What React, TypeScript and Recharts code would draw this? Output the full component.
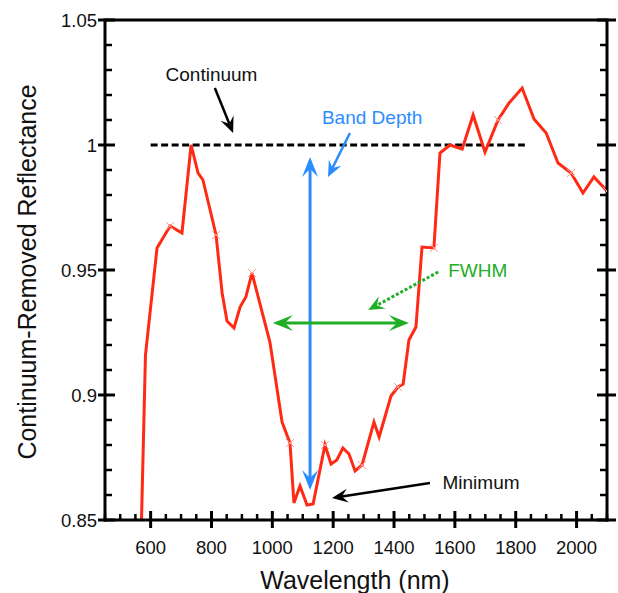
import React from 'react';
import { LineChart, Line, XAxis, YAxis, ReferenceLine, ReferenceDot } from 'recharts';

// ---- data ----
const wavelengths = [570, 583, 621, 664, 703, 733, 756, 772, 815, 835, 851, 874, 894, 913, 933, 992, 1032, 1058, 1071, 1091, 1114, 1134, 1173, 1193, 1212, 1232, 1252, 1272, 1295, 1334, 1351, 1390, 1413, 1430, 1449, 1472, 1492, 1531, 1551, 1584, 1624, 1660, 1699, 1742, 1778, 1821, 1860, 1900, 1939, 1982, 2021, 2057, 2100];
const reflectance = [0.85, 0.916, 0.9588, 0.9676, 0.9648, 1.0, 0.9888, 0.986, 0.964, 0.9408, 0.9296, 0.9268, 0.9352, 0.9392, 0.9488, 0.9212, 0.8892, 0.8808, 0.8568, 0.8636, 0.856, 0.8564, 0.88, 0.8724, 0.874, 0.8788, 0.8764, 0.8696, 0.872, 0.8892, 0.8832, 0.8996, 0.9032, 0.9044, 0.922, 0.9272, 0.9592, 0.9588, 0.9968, 1.0, 0.9984, 1.012, 0.9972, 1.01, 1.0168, 1.0228, 1.0104, 1.0048, 0.9928, 0.9888, 0.9808, 0.9872, 0.9816];
const markedWavelengths = [664, 815, 933, 1058, 1173, 1295, 1413, 1531, 1742, 1982, 2100];

const xMajorTicks = [600, 800, 1000, 1200, 1400, 1600, 1800, 2000];
const xTickLabels = ['600', '800', '1000', '1200', '1400', '1600', '1800', '2000'];
const xAllTicks = [450, 500, 550, 600, 650, 700, 750, 800, 850, 900, 950, 1000, 1050, 1100, 1150, 1200, 1250, 1300, 1350, 1400, 1450, 1500, 1550, 1600, 1650, 1700, 1750, 1800, 1850, 1900, 1950, 2000, 2050, 2100];
const yMajorTicks = [0.85, 0.9, 0.95, 1, 1.05];
const yTickLabels = ['0.85', '0.9', '0.95', '1', '1.05'];
const yAllTicks = [0.85, 0.86, 0.87, 0.88, 0.89, 0.9, 0.91, 0.92, 0.93, 0.94, 0.95, 0.96, 0.97, 0.98, 0.99, 1, 1.01, 1.02, 1.03, 1.04, 1.05];

const continuumLevel = 1;
const continuumRange = [600, 1830];

const data = wavelengths.map((w, i) => ({ wl: w, r: reflectance[i], marked: markedWavelengths.includes(w) }));

const FONT = '"Liberation Sans", Arial, Helvetica, sans-serif';
const RED = '#ff2a14';
const BLUE = '#2b8cff';
const GREEN = '#1fae24';

const majorIndex = (arr: number[], v: number) => arr.findIndex((a) => Math.abs(a - v) < 1e-6);

const XTick = (props: any) => {
  const { x, y, payload } = props;
  const i = majorIndex(xMajorTicks, payload.value);
  if (i >= 0) {
    return (
      <g>
        <line x1={x} x2={x} y1={y - 9} y2={y + 8} stroke="#000" strokeWidth={3} />
        <text x={x} y={y + 34} textAnchor="middle" fontSize={18.5} fontFamily={FONT} fill="#111">
          {xTickLabels[i]}
        </text>
      </g>
    );
  }
  return <line x1={x} x2={x} y1={y - 6} y2={y} stroke="#000" strokeWidth={2.5} />;
};

const YTickLeft = (props: any) => {
  const { x, y, payload } = props;
  const i = majorIndex(yMajorTicks, payload.value);
  if (i >= 0) {
    return (
      <g>
        <line x1={x - 7} x2={x + 10} y1={y} y2={y} stroke="#000" strokeWidth={3} />
        <text x={x - 8} y={y} textAnchor="end" dominantBaseline="central" fontSize={18.5} fontFamily={FONT} fill="#111">
          {yTickLabels[i]}
        </text>
      </g>
    );
  }
  return <line x1={x} x2={x + 7} y1={y} y2={y} stroke="#000" strokeWidth={2.5} />;
};

const YTickRight = (props: any) => {
  const { x, y, payload } = props;
  const i = majorIndex(yMajorTicks, payload.value);
  if (i >= 0) {
    return <line x1={x - 10} x2={x + 9} y1={y} y2={y} stroke="#000" strokeWidth={3} />;
  }
  return <line x1={x - 7} x2={x} y1={y} y2={y} stroke="#000" strokeWidth={2.5} />;
};

const renderDot = (props: any) => {
  const { cx, cy, payload, index } = props;
  if (!payload || !payload.marked || cx == null || cy == null) return <g key={`d${index}`} />;
  const s = 4;
  return (
    <g key={`d${index}`}>
      <line x1={cx - s} y1={cy - s} x2={cx + s} y2={cy + s} stroke="#ff9a90" strokeWidth={1} />
      <line x1={cx - s} y1={cy + s} x2={cx + s} y2={cy - s} stroke="#ff9a90" strokeWidth={1} />
    </g>
  );
};

type ArrowOpts = { color: string; width: number; dash?: string; both?: boolean; len?: number; half?: number; notch?: number };
const arrowShape = (o: ArrowOpts) => (props: any) => {
  const { x1, y1, x2, y2 } = props;
  const dx = x2 - x1;
  const dy = y2 - y1;
  const d = Math.hypot(dx, dy) || 1;
  const ux = dx / d;
  const uy = dy / d;
  const nx = -uy;
  const ny = ux;
  const L = o.len ?? 18;
  const W = o.half ?? 8;
  const N = o.notch ?? 11;
  const head = (tx: number, ty: number, sx: number, sy: number) =>
    `M${tx},${ty} L${tx - L * sx + W * nx},${ty - L * sy + W * ny} L${tx - N * sx},${ty - N * sy} L${tx - L * sx - W * nx},${ty - L * sy - W * ny} Z`;
  const sx1 = o.both ? x1 + N * ux : x1;
  const sy1 = o.both ? y1 + N * uy : y1;
  return (
    <g>
      <line x1={sx1} y1={sy1} x2={x2 - N * ux} y2={y2 - N * uy} stroke={o.color} strokeWidth={o.width} strokeDasharray={o.dash} />
      <path d={head(x2, y2, ux, uy)} fill={o.color} />
      {o.both ? <path d={head(x1, y1, -ux, -uy)} fill={o.color} /> : null}
    </g>
  );
};

const textShape = (label: string, color: string, size: number) => (props: any) => (
  <text x={props.cx} y={props.cy} textAnchor="middle" dominantBaseline="central" fontSize={size} fontFamily={FONT} fill={color}>
    {label}
  </text>
);

export default function App() {
  return (
    <div style={{ position: 'absolute', left: 0, top: 0, background: '#fff' }}>
      <LineChart width={618} height={593} data={data} margin={{ top: 20, right: 0, bottom: 0, left: 0 }}>
        <XAxis
          dataKey="wl"
          type="number"
          domain={[450, 2100]}
          allowDataOverflow
          ticks={xAllTicks}
          interval={0}
          tickSize={0}
          tickMargin={0}
          tickLine={false}
          tick={<XTick />}
          height={73}
          axisLine={{ stroke: '#000', strokeWidth: 3, strokeLinecap: 'square' }}
          label={{
            content: (p: any) => {
              const vb = p.viewBox || { x: 105, y: 520, width: 502, height: 73 };
              return (
                <text x={vb.x + vb.width / 2 - 1} y={vb.y + 60} textAnchor="middle" dominantBaseline="central" fontSize={25} fontFamily={FONT} fill="#111">
                  Wavelength (nm)
                </text>
              );
            },
          }}
        />
        <YAxis
          type="number"
          domain={[0.85, 1.05]}
          allowDataOverflow
          ticks={yAllTicks}
          interval={0}
          tickSize={0}
          tickMargin={0}
          tickLine={false}
          tick={<YTickLeft />}
          width={105}
          axisLine={{ stroke: '#000', strokeWidth: 3, strokeLinecap: 'square' }}
          label={{
            content: (p: any) => {
              const vb = p.viewBox || { x: 0, y: 20, width: 105, height: 500 };
              const cx = vb.x + 27;
              const cy = vb.y + vb.height / 2 + 2;
              return (
                <text x={cx} y={cy} transform={`rotate(-90 ${cx} ${cy})`} textAnchor="middle" dominantBaseline="central" fontSize={25} fontFamily={FONT} fill="#111">
                  Continuum-Removed Reflectance
                </text>
              );
            },
          }}
        />
        <YAxis
          yAxisId="r"
          orientation="right"
          type="number"
          domain={[0.85, 1.05]}
          allowDataOverflow
          ticks={yAllTicks}
          interval={0}
          tickSize={0}
          tickMargin={0}
          tickLine={false}
          tick={<YTickRight />}
          width={11}
          axisLine={{ stroke: '#000', strokeWidth: 3, strokeLinecap: 'square' }}
        />
        <ReferenceLine y={1.05} stroke="#000" strokeWidth={3} />
        <ReferenceLine
          segment={[{ x: continuumRange[0], y: continuumLevel }, { x: continuumRange[1], y: continuumLevel }]}
          stroke="#000"
          strokeWidth={3}
          strokeDasharray="7 3.5"
        />
        <Line
          dataKey="r"
          stroke={RED}
          strokeWidth={3}
          dot={renderDot}
          activeDot={false}
          isAnimationActive={false}
        />
        {/* Band depth vertical double arrow */}
        <ReferenceLine
          segment={[{ x: 1124, y: 0.9952 }, { x: 1124, y: 0.862 }]}
          shape={arrowShape({ color: BLUE, width: 3, both: true, len: 20, half: 8, notch: 12 })}
        />
        {/* FWHM horizontal double arrow */}
        <ReferenceLine
          segment={[{ x: 1002, y: 0.9288 }, { x: 1449, y: 0.9288 }]}
          shape={arrowShape({ color: GREEN, width: 3, both: true, len: 20, half: 8, notch: 12 })}
        />
        {/* pointer arrows */}
        <ReferenceLine
          segment={[{ x: 811, y: 1.0228 }, { x: 871, y: 1.0048 }]}
          shape={arrowShape({ color: '#000', width: 2.5, len: 16, half: 7, notch: 10 })}
        />
        <ReferenceLine
          segment={[{ x: 1255, y: 1.0048 }, { x: 1183, y: 0.9872 }]}
          shape={arrowShape({ color: BLUE, width: 2.5, len: 16, half: 7, notch: 10 })}
        />
        <ReferenceLine
          segment={[{ x: 1545, y: 0.9492 }, { x: 1315, y: 0.934 }]}
          shape={arrowShape({ color: GREEN, width: 3, dash: '3 2', len: 16, half: 7, notch: 10 })}
        />
        <ReferenceLine
          segment={[{ x: 1518, y: 0.8648 }, { x: 1196, y: 0.8588 }]}
          shape={arrowShape({ color: '#000', width: 2.5, len: 16, half: 7, notch: 10 })}
        />
        {/* annotation labels */}
        <ReferenceDot x={800} y={1.0284} r={1} ifOverflow="visible" shape={textShape('Continuum', '#111', 19)} />
        <ReferenceDot x={1328} y={1.0112} r={1} ifOverflow="visible" shape={textShape('Band Depth', BLUE, 19)} />
        <ReferenceDot x={1675} y={0.95} r={1} ifOverflow="visible" shape={textShape('FWHM', GREEN, 19)} />
        <ReferenceDot x={1686} y={0.8652} r={1} ifOverflow="visible" shape={textShape('Minimum', '#111', 19)} />
      </LineChart>
    </div>
  );
}
